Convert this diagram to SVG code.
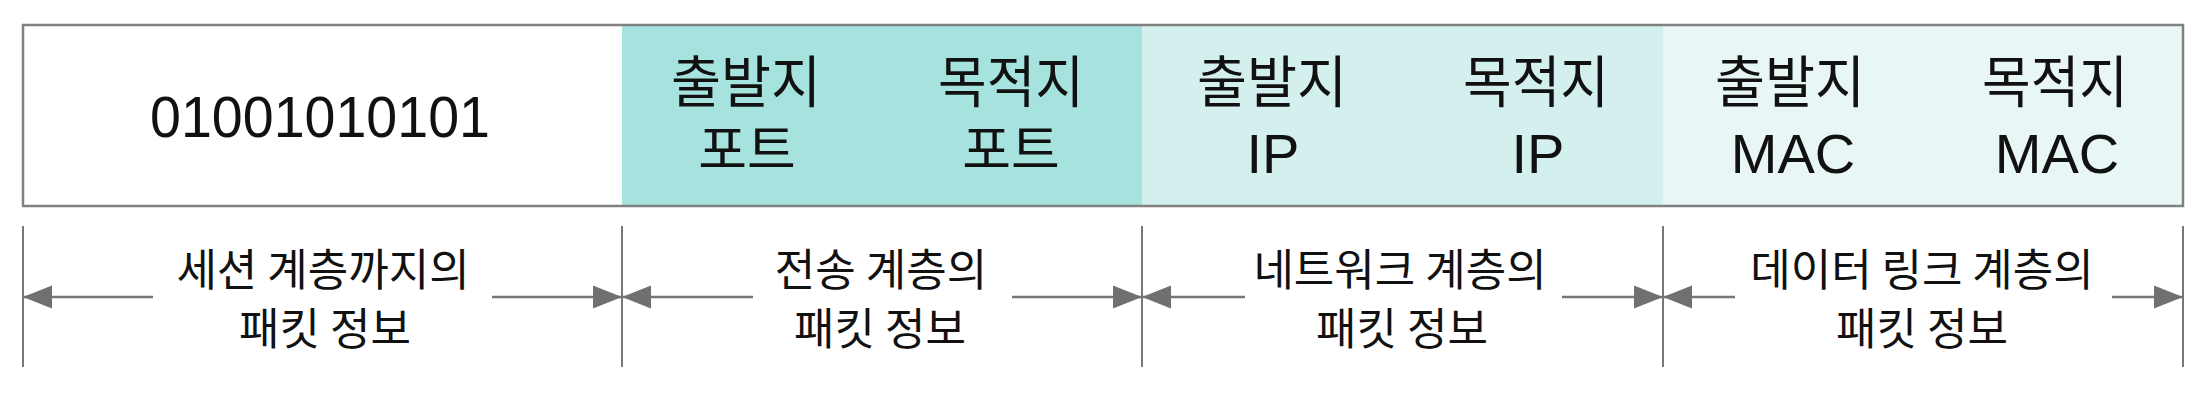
<svg xmlns="http://www.w3.org/2000/svg" width="2210" height="404" viewBox="0 0 2210 404">
<style>
.ko{font-family:"Noto Sans CJK KR","Noto Sans",sans-serif;fill:#111;text-anchor:middle}
.la{font-family:"Liberation Sans",Arial,sans-serif;fill:#111;text-anchor:middle}
.hd{font-size:56px}
.pt{font-size:53px}
.lt{font-family:"Liberation Sans",Arial,sans-serif;font-size:56px}
.bt{font-size:44px}
.tick{stroke:#777;stroke-width:2}
.arr{stroke:#777;stroke-width:2.5;fill:none;marker-end:url(#ah)}
</style>
<defs>
<marker id="ah" markerUnits="userSpaceOnUse" markerWidth="30" markerHeight="24" refX="29" refY="11.5" orient="auto">
<path d="M0,0 L29,11.5 L0,23 Z" fill="#707070"/>
</marker>
</defs>
<rect x="0" y="0" width="2210" height="404" fill="#fff"/>

<g id="payload">
<rect x="23" y="25" width="599" height="181" fill="#fff"/>
<text class="la" x="320" y="137" font-size="57" textLength="340" lengthAdjust="spacingAndGlyphs">01001010101</text>
</g>

<g id="transport">
<rect x="622" y="25" width="520" height="181" fill="#a6e2de"/>
<text class="ko hd"><tspan x="746" y="102" textLength="150" lengthAdjust="spacingAndGlyphs">출발지</tspan><tspan class="pt" x="747" y="169">포트</tspan></text>
<text class="ko hd"><tspan x="1011" y="102" textLength="146" lengthAdjust="spacingAndGlyphs">목적지</tspan><tspan class="pt" x="1011" y="169">포트</tspan></text>
</g>

<g id="network">
<rect x="1142" y="25" width="521" height="181" fill="#d3f0ee"/>
<text class="ko hd"><tspan x="1272" y="102" textLength="150" lengthAdjust="spacingAndGlyphs">출발지</tspan><tspan class="lt" x="1273" y="173">IP</tspan></text>
<text class="ko hd"><tspan x="1536" y="102" textLength="146" lengthAdjust="spacingAndGlyphs">목적지</tspan><tspan class="lt" x="1538" y="173">IP</tspan></text>
</g>

<g id="datalink">
<rect x="1663" y="25" width="520" height="181" fill="#e8f6f5"/>
<text class="ko hd"><tspan x="1790" y="102" textLength="150" lengthAdjust="spacingAndGlyphs">출발지</tspan><tspan class="lt" x="1793" y="173">MAC</tspan></text>
<text class="ko hd"><tspan x="2055" y="102" textLength="146" lengthAdjust="spacingAndGlyphs">목적지</tspan><tspan class="lt" x="2057" y="173">MAC</tspan></text>
</g>

<rect id="frame" x="23" y="25" width="2160" height="181" fill="none" stroke="#808080" stroke-width="2.5"/>

<g id="label-session">
<text class="ko bt" x="323" y="286">세션 계층까지의</text>
<text class="ko bt" x="325" y="345">패킷 정보</text>
</g>
<g id="label-transport">
<text class="ko bt" x="881" y="286">전송 계층의</text>
<text class="ko bt" x="880" y="345">패킷 정보</text>
</g>
<g id="label-network">
<text class="ko bt" x="1400" y="286">네트워크 계층의</text>
<text class="ko bt" x="1402" y="345">패킷 정보</text>
</g>
<g id="label-datalink">
<text class="ko bt" x="1922" y="286">데이터 링크 계층의</text>
<text class="ko bt" x="1922" y="345">패킷 정보</text>
</g>

<g id="connectors">
<line class="tick" x1="23" y1="226" x2="23" y2="367"/>
<line class="tick" x1="622" y1="226" x2="622" y2="367"/>
<line class="tick" x1="1142" y1="226" x2="1142" y2="367"/>
<line class="tick" x1="1663" y1="226" x2="1663" y2="367"/>
<line class="tick" x1="2183" y1="226" x2="2183" y2="367"/>
<line class="arr" x1="153" y1="297" x2="23" y2="297"/>
<line class="arr" x1="492" y1="297" x2="622" y2="297"/>
<line class="arr" x1="753" y1="297" x2="622" y2="297"/>
<line class="arr" x1="1012" y1="297" x2="1142" y2="297"/>
<line class="arr" x1="1245" y1="297" x2="1142" y2="297"/>
<line class="arr" x1="1562" y1="297" x2="1663" y2="297"/>
<line class="arr" x1="1735" y1="297" x2="1663" y2="297"/>
<line class="arr" x1="2112" y1="297" x2="2183" y2="297"/>
</g>
</svg>
